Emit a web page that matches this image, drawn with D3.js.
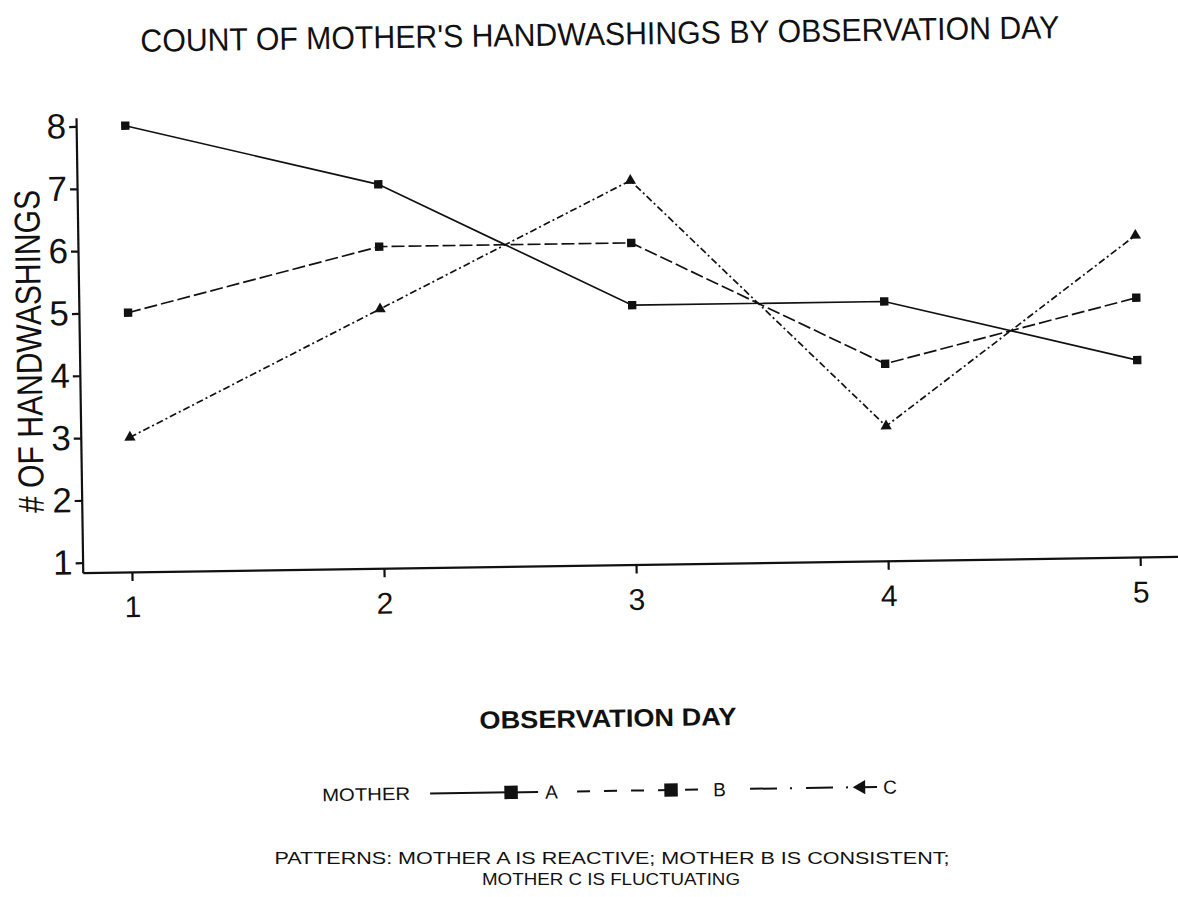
<!DOCTYPE html>
<html lang="en">
<head>
  <meta charset="UTF-8">
  <title>Count of Mother's Handwashings</title>
  <style>
    body { margin: 0; background: #fff; }
    text { font-family: "Liberation Sans", Arial, sans-serif; fill: #111; }
    .axis path, .axis line { stroke: #111; stroke-width: 2.2; }
    .axis text { font-family: "Liberation Sans", Arial, sans-serif; fill: #111; }
    .series { fill: none; stroke: #111; stroke-width: 1.7; }
  </style>
</head>
<body>
  <div class="canvas"></div>
  <script src="https://d3js.org/d3.v7.min.js"></script>
  <script>
    // values
    const days = [1, 2, 3, 4, 5];
    const motherA = [8, 7, 5, 5, 4];
    const motherB = [5, 6, 6, 4, 5];
    const motherC = [3, 5, 7, 3, 6];
    const yTicks = [1, 2, 3, 4, 5, 6, 7, 8];
    const seriesNames = ['A', 'B', 'C'];

    const width = 1178;
    const height = 897;

    const svg = d3.select('.canvas')
      .append('svg')
      .attr('width', width)
      .attr('height', height);

    // the scan is tilted slightly
    const root = svg.append('g')
      .attr('transform', 'rotate(-0.85, 600, 450)');

    const x = d3.scaleLinear().domain([0.805, 5.244]).range([81, 1200]);
    const y = d3.scaleLinear().domain([0.84, 8.14]).range([565, 110]);

    const series = [
      { name: 'A', values: motherA, dash: null, symbol: d3.symbolSquare },
      { name: 'B', values: motherB, dash: '13,4', symbol: d3.symbolSquare },
      { name: 'C', values: motherC, dash: '7,3,2,3', symbol: d3.symbolTriangle }
    ];

    // title
    root.append('text')
      .attr('x', 606)
      .attr('y', 45)
      .attr('text-anchor', 'middle')
      .attr('textLength', 919)
      .attr('lengthAdjust', 'spacingAndGlyphs')
      .style('font-size', '32px')
      .text("COUNT OF MOTHER'S HANDWASHINGS BY OBSERVATION DAY");

    // axes
    const gX = root.append('g')
      .attr('class', 'axis')
      .attr('transform', `translate(0, ${y.range()[0]})`)
      .call(d3.axisBottom(x).tickValues(days).tickSize(9).tickSizeOuter(0).tickPadding(15).tickFormat(d3.format('d')));
    gX.selectAll('text').style('font-size', '30px');

    const gY = root.append('g')
      .attr('class', 'axis')
      .attr('transform', `translate(${x.range()[0]}, 0)`)
      .call(d3.axisLeft(y).tickValues(yTicks).tickSize(7).tickSizeOuter(0).tickPadding(3).tickFormat(d3.format('d')));
    gY.selectAll('text').style('font-size', '35px');

    // axis titles
    root.append('text')
      .attr('transform', 'translate(43, 343) rotate(-90)')
      .attr('text-anchor', 'middle')
      .attr('textLength', 323)
      .attr('lengthAdjust', 'spacingAndGlyphs')
      .style('font-size', '36px')
      .text('# OF HANDWASHINGS');

    root.append('text')
      .attr('x', 604)
      .attr('y', 727)
      .attr('text-anchor', 'middle')
      .attr('textLength', 257)
      .attr('lengthAdjust', 'spacingAndGlyphs')
      .style('font-size', '25px')
      .style('font-weight', 'bold')
      .text('OBSERVATION DAY');

    // lines + markers
    const line = d3.line()
      .x((d, i) => x(days[i]))
      .y(d => y(d));

    series.forEach(s => {
      root.append('path')
        .datum(s.values)
        .attr('class', 'series')
        .attr('stroke-dasharray', s.dash)
        .attr('d', line);

      root.selectAll(null)
        .data(s.values)
        .enter()
        .append('path')
        .attr('transform', (d, i) => `translate(${x(days[i])}, ${y(d)})`)
        .attr('d', d3.symbol().type(s.symbol).size(s.name === 'C' ? 55 : 70))
        .attr('fill', '#111');
    });

    // legend
    const legend = root.append('g').attr('transform', 'translate(0, 791)');
    legend.append('text')
      .attr('x', 317)
      .attr('y', 6)
      .attr('textLength', 88)
      .attr('lengthAdjust', 'spacingAndGlyphs')
      .style('font-size', '18px')
      .text('MOTHER');

    const legendItems = [
      { x0: 425, x1: 533, mark: 506, label: 540, dash: null, symbol: d3.symbolSquare, rot: 0 },
      { x0: 572, x1: 697, mark: 666, label: 708, dash: '13,14', symbol: d3.symbolSquare, rot: 0 },
      { x0: 745, x1: 872, mark: 856, label: 878, dash: '27,13,2,14', symbol: d3.symbolTriangle, rot: -90 }
    ];

    legendItems.forEach((it, i) => {
      legend.append('line')
        .attr('x1', it.x0).attr('x2', it.x1)
        .attr('y1', 0).attr('y2', 0)
        .attr('stroke', '#111')
        .attr('stroke-width', 2)
        .attr('stroke-dasharray', it.dash);
      legend.append('path')
        .attr('transform', `translate(${it.mark}, 0) rotate(${it.rot})`)
        .attr('d', d3.symbol().type(it.symbol).size(i === 2 ? 90 : 180))
        .attr('fill', '#111');
      legend.append('text')
        .attr('x', it.label)
        .attr('y', 7)
        .style('font-size', '19px')
        .text(seriesNames[i]);
    });

    // note (kept level so the two lines do not collide)
    svg.append('text')
      .attr('x', 612)
      .attr('y', 864)
      .attr('text-anchor', 'middle')
      .attr('textLength', 675)
      .attr('lengthAdjust', 'spacingAndGlyphs')
      .style('font-size', '17px')
      .text('PATTERNS: MOTHER A IS REACTIVE; MOTHER B IS CONSISTENT;');
    svg.append('text')
      .attr('x', 611)
      .attr('y', 885)
      .attr('text-anchor', 'middle')
      .attr('textLength', 258)
      .attr('lengthAdjust', 'spacingAndGlyphs')
      .style('font-size', '17px')
      .text('MOTHER C IS FLUCTUATING');
  </script>
</body>
</html>
